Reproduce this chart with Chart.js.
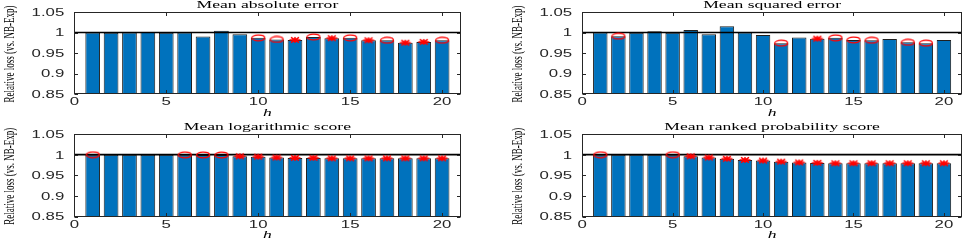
<!DOCTYPE html>
<html lang="en">
<head>
  <meta charset="UTF-8">
  <title>Relative loss (vs. NB-Exp)</title>
  <script src="https://cdn.jsdelivr.net/npm/chart.js"></script>
  <style>
    body {
      margin: 0;
      background: #ffffff;
      width: 969px;
      height: 241px;
      overflow: hidden;
      position: relative;
    }
    canvas {
      position: absolute;
    }
    .axes {
      pointer-events: none;
      z-index: 2;
    }
  </style>
</head>
<body>
  <canvas id="maeChart" width="484" height="120" style="left:0;top:0"></canvas>
  <canvas id="mseChart" width="485" height="120" style="left:484px;top:0"></canvas>
  <canvas id="logChart" width="484" height="121" style="left:0;top:120px"></canvas>
  <canvas id="rpsChart" width="485" height="121" style="left:484px;top:120px"></canvas>
  <!-- overlays for the MATLAB style box, ticks and text -->
  <canvas id="maeAxes" class="axes" width="484" height="120" style="left:0;top:0"></canvas>
  <canvas id="mseAxes" class="axes" width="485" height="120" style="left:484px;top:0"></canvas>
  <canvas id="logAxes" class="axes" width="484" height="121" style="left:0;top:120px"></canvas>
  <canvas id="rpsAxes" class="axes" width="485" height="121" style="left:484px;top:120px"></canvas>

  <script>
    // horizons and axis ticks
    const horizons = [1, 2, 3, 4, 5, 6, 7, 8, 9, 10, 11, 12, 13, 14, 15, 16, 17, 18, 19, 20];
    const xTicks = [0, 5, 10, 15, 20];
    const yTicks = [0.85, 0.9, 0.95, 1, 1.05];
    const yTickLabels = ['0.85', '0.9', '0.95', '1', '1.05'];

    // Mean absolute error
    const maeLoss = [1.000, 0.9995, 1.000, 1.001, 0.9995, 1.000, 0.990, 1.004, 0.996, 0.987,
                     0.983, 0.982, 0.989, 0.986, 0.987, 0.981, 0.981, 0.975, 0.977, 0.981];
    const maeCircles = [10, 11, 13, 15, 17, 20];
    const maeStars = [12, 14, 16, 18, 19];

    // Mean squared error
    const mseLoss = [1.000, 0.991, 0.9995, 1.003, 0.9995, 1.006, 0.996, 1.015, 1.000, 0.994,
                     0.974, 0.988, 0.985, 0.987, 0.982, 0.981, 0.984, 0.976, 0.974, 0.982];
    const mseCircles = [2, 11, 14, 15, 16, 18, 19];
    const mseStars = [13];

    // Mean logarithmic score
    const logLoss = [0.9998, 1.000, 1.000, 1.000, 1.000, 0.9995, 0.9993, 0.999, 0.996, 0.995,
                     0.993, 0.992, 0.992, 0.991, 0.991, 0.991, 0.991, 0.991, 0.991, 0.991];
    const logCircles = [1, 6, 7, 8];
    const logStars = [9, 10, 11, 12, 13, 14, 15, 16, 17, 18, 19, 20];

    // Mean ranked probability score
    const rpsLoss = [0.9998, 1.000, 1.000, 1.000, 0.9998, 0.996, 0.993, 0.990, 0.987, 0.9855,
                     0.983, 0.981, 0.980, 0.979, 0.979, 0.979, 0.979, 0.979, 0.979, 0.979];
    const rpsCircles = [1, 5];
    const rpsStars = [6, 7, 8, 9, 10, 11, 12, 13, 14, 15, 16, 17, 18, 19, 20];

    const STRETCH = 1.6; // the figure is wider than it is tall, text looks stretched

    // red marker images (squashed circle and asterisk)
    function circleMarker() {
      const c = document.createElement('canvas');
      c.width = 16; c.height = 8;
      const ctx = c.getContext('2d');
      ctx.strokeStyle = '#ff0000';
      ctx.lineWidth = 1.3;
      ctx.beginPath();
      ctx.ellipse(8, 4, 6.5, 2.8, 0, 0, Math.PI * 2);
      ctx.stroke();
      return c;
    }
    function starMarker() {
      const c = document.createElement('canvas');
      c.width = 14; c.height = 8;
      const ctx = c.getContext('2d');
      ctx.strokeStyle = '#ff0000';
      ctx.lineWidth = 1.4;
      ctx.beginPath();
      ctx.moveTo(1.5, 4); ctx.lineTo(12.5, 4);
      ctx.moveTo(7, 1); ctx.lineTo(7, 7);
      ctx.moveTo(3, 1.3); ctx.lineTo(11, 6.7);
      ctx.moveTo(3, 6.7); ctx.lineTo(11, 1.3);
      ctx.stroke();
      return c;
    }
    const circleImg = circleMarker();
    const starImg = starMarker();

    function wideText(ctx, text, x, y, align, font) {
      ctx.save();
      ctx.font = font;
      ctx.textBaseline = 'middle';
      ctx.textAlign = 'left';
      const w = ctx.measureText(text).width * STRETCH;
      const x0 = align === 'center' ? x - w / 2 : (align === 'right' ? x - w : x);
      ctx.translate(x0, y);
      ctx.scale(STRETCH, 1);
      ctx.fillText(text, 0, 0);
      ctx.restore();
    }

    // MATLAB style box, inward ticks and labels, drawn on the overlay canvas
    const matlabAxes = {
      id: 'matlabAxes',
      afterDraw(chart, args, opts) {
        const cv = document.getElementById(opts.overlay);
        const ctx = cv.getContext('2d');
        ctx.setTransform(1, 0, 0, 1, 0, 0);
        ctx.clearRect(0, 0, cv.width, cv.height);

        const a = chart.chartArea;
        const xs = chart.scales.x;
        const ys = chart.scales.y;
        const L = Math.round(a.left) + 0.5;
        const R = Math.round(a.right) - 0.5;
        const T = Math.round(a.top) + 0.5;
        const B = Math.round(a.bottom) - 0.5;

        ctx.save();
        ctx.strokeStyle = '#262626';
        ctx.lineWidth = 1;
        ctx.strokeRect(L, T, R - L, B - T);
        ctx.beginPath();
        xTicks.forEach(t => {
          const px = Math.round(xs.getPixelForValue(t)) + 0.5;
          ctx.moveTo(px, B); ctx.lineTo(px, B - 3.5);
          ctx.moveTo(px, T); ctx.lineTo(px, T + 3.5);
        });
        yTicks.forEach(t => {
          const py = Math.round(ys.getPixelForValue(t)) + 0.5;
          ctx.moveTo(L, py); ctx.lineTo(L + 3.5, py);
          ctx.moveTo(R, py); ctx.lineTo(R - 3.5, py);
        });
        ctx.stroke();
        ctx.restore();

        ctx.save();
        ctx.fillStyle = '#262626';
        const tickFont = '10.5px "Liberation Sans", Arial, sans-serif';
        xTicks.forEach(t => {
          wideText(ctx, String(t), xs.getPixelForValue(t), a.bottom + 8.5, 'center', tickFont);
        });
        yTicks.forEach((t, i) => {
          wideText(ctx, yTickLabels[i], a.left - 10, ys.getPixelForValue(t) + 1, 'right', tickFont);
        });

        ctx.fillStyle = '#000000';
        const cx = (a.left + a.right) / 2;
        wideText(ctx, opts.title, cx, a.top - 7, 'center', '11px "Liberation Serif", serif');
        wideText(ctx, 'h', cx, a.bottom + 19, 'center', 'italic 11px "Liberation Serif", serif');

        // rotated y label, stretched across its thickness
        ctx.translate(a.left - 64, (a.top + a.bottom) / 2 + 1);
        ctx.rotate(-Math.PI / 2);
        ctx.scale(1, STRETCH);
        ctx.font = '9px "Liberation Serif", serif';
        ctx.textAlign = 'center';
        ctx.textBaseline = 'middle';
        ctx.fillText('Relative loss (vs. NB-Exp)', 0, 0);
        ctx.restore();
      }
    };

    function makePanel(id, overlay, title, losses, circles, stars, pad) {
      const bars = horizons.map((hh, i) => ({ x: hh, y: losses[i] }));
      const circlePts = circles.map(hh => ({ x: hh, y: losses[hh - 1] }));
      const starPts = stars.map(hh => ({ x: hh, y: losses[hh - 1] }));
      return new Chart(document.getElementById(id), {
        type: 'bar',
        data: {
          datasets: [
            {
              type: 'line',
              data: circlePts,
              showLine: false,
              pointStyle: circleImg,
              pointRadius: 6,
              order: 0
            },
            {
              type: 'line',
              data: starPts,
              showLine: false,
              pointStyle: starImg,
              pointRadius: 6,
              order: 0
            },
            {
              type: 'line',
              data: [{ x: 0, y: 1 }, { x: 21, y: 1 }],
              borderColor: '#000000',
              borderWidth: 1.6,
              pointRadius: 0,
              order: 1
            },
            {
              type: 'bar',
              data: bars,
              backgroundColor: '#0072bd',
              borderColor: '#1f1f1f',
              borderWidth: 1,
              borderSkipped: false,
              barPercentage: 0.8,
              categoryPercentage: 1,
              order: 2
            }
          ]
        },
        options: {
          responsive: false,
          animation: false,
          layout: { padding: pad },
          scales: {
            x: { type: 'linear', min: 0, max: 21, display: false, offset: false },
            y: { type: 'linear', min: 0.85, max: 1.05, display: false }
          },
          plugins: {
            legend: { display: false },
            tooltip: { enabled: false },
            matlabAxes: { title: title, overlay: overlay }
          }
        },
        plugins: [matlabAxes]
      });
    }

    const padLeft = { left: 74.3, right: 23.5, top: 12, bottom: 26 };
    const padRight = { left: 98.2, right: 1.5, top: 12, bottom: 26 };
    const padLeftLow = { left: 74.3, right: 23.5, top: 14, bottom: 24.5 };
    const padRightLow = { left: 98.2, right: 1.5, top: 14, bottom: 24.5 };

    makePanel('maeChart', 'maeAxes', 'Mean absolute error', maeLoss, maeCircles, maeStars, padLeft);
    makePanel('mseChart', 'mseAxes', 'Mean squared error', mseLoss, mseCircles, mseStars, padRight);
    makePanel('logChart', 'logAxes', 'Mean logarithmic score', logLoss, logCircles, logStars, padLeftLow);
    makePanel('rpsChart', 'rpsAxes', 'Mean ranked probability score', rpsLoss, rpsCircles, rpsStars, padRightLow);
  </script>
</body>
</html>
